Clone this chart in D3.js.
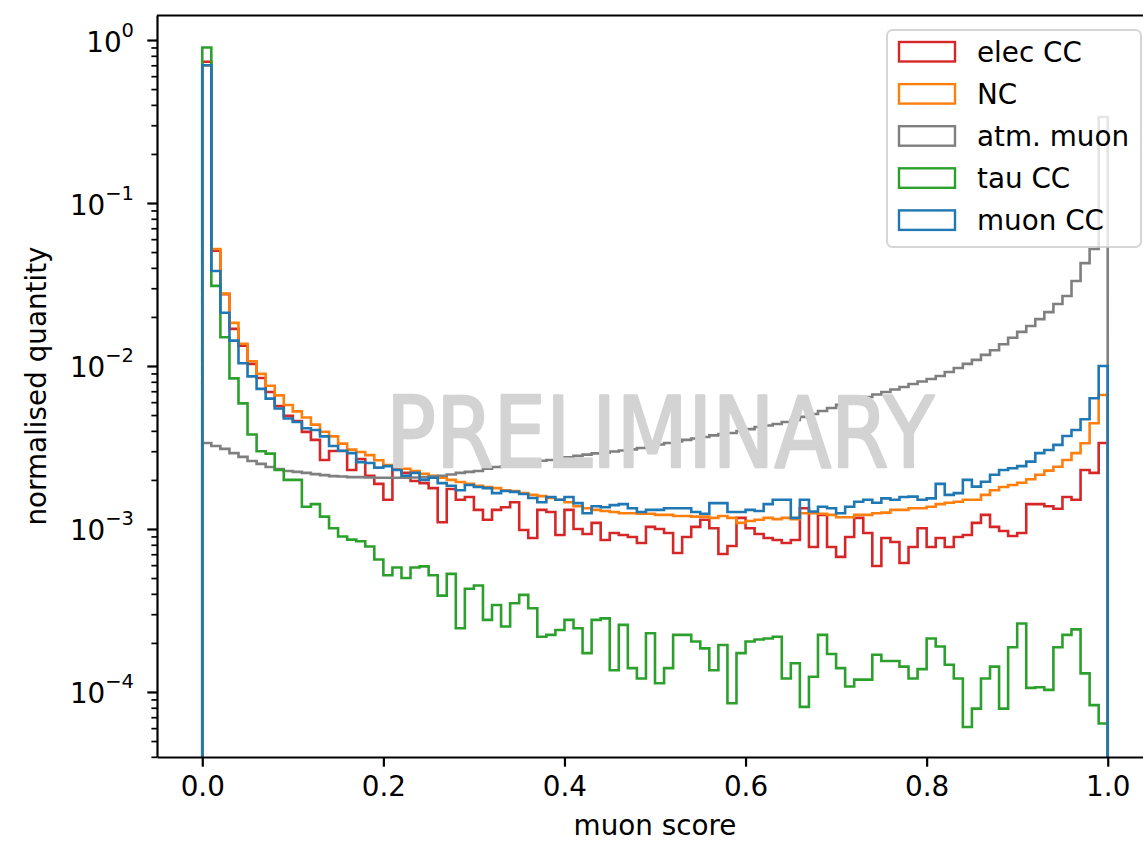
<!DOCTYPE html>
<html>
<head>
<meta charset="utf-8">
<script src="https://cdn.jsdelivr.net/npm/d3@7"></script>
<style>
  body { margin: 0; background: #fff; }
  svg { display: block; font-family: "DejaVu Sans", sans-serif; }
</style>
</head>
<body>
<div id="chart"></div>
<script>
// histogram bin edges: 100 bins of muon score between 0 and 1
var binEdges = d3.range(101).map(function(i) { return i / 100; });

var seriesNames = ["elec CC", "NC", "atm. muon", "tau CC", "muon CC"];
var seriesColors = ["#d62728", "#ff7f0e", "#7f7f7f", "#2ca02c", "#1f77b4"];

var elecCC = [
  0.736, 0.0510, 0.0276, 0.0169, 0.0133, 0.0103, 0.00844, 0.00693, 0.00568, 0.00494,
  0.00460, 0.00394, 0.00352, 0.00265, 0.00301, 0.00301, 0.00230, 0.00269, 0.00212, 0.00189,
  0.00151, 0.00237, 0.00221, 0.00197, 0.00191, 0.00178, 0.00110, 0.00176, 0.00151, 0.00157,
  0.00131, 0.00114, 0.00131, 0.00136, 0.00146, 0.000986, 0.000881, 0.00131, 0.00127, 0.000919,
  0.00131, 0.00100, 0.000932, 0.00109, 0.000856, 0.000945, 0.000919, 0.000893, 0.000821, 0.00103,
  0.00100, 0.000945, 0.000712, 0.000893, 0.00103, 0.00114, 0.00101, 0.000702, 0.000787, 0.00117,
  0.00101, 0.000932, 0.000881, 0.000856, 0.000821, 0.000856, 0.00134, 0.000776, 0.00122, 0.000776,
  0.000674, 0.000893, 0.00117, 0.000945, 0.000593, 0.000881, 0.000832, 0.000619, 0.000776, 0.00101,
  0.000776, 0.000881, 0.000776, 0.000893, 0.000919, 0.00109, 0.00122, 0.00103, 0.000972, 0.000906,
  0.000945, 0.00142, 0.00142, 0.00138, 0.00133, 0.00157, 0.00151, 0.00230, 0.00221, 0.00337
];

var nc = [
  0.698, 0.0522, 0.0278, 0.0184, 0.0137, 0.0107, 0.00895, 0.00757, 0.00660, 0.00576,
  0.00527, 0.00483, 0.00437, 0.00395, 0.00370, 0.00334, 0.00307, 0.00297, 0.00284, 0.00264,
  0.00247, 0.00240, 0.00234, 0.00227, 0.00218, 0.00212, 0.00206, 0.00200, 0.00194, 0.00189,
  0.00184, 0.00181, 0.00178, 0.00173, 0.00171, 0.00166, 0.00162, 0.00159, 0.00155, 0.00151,
  0.00146, 0.00138, 0.00134, 0.00131, 0.00129, 0.00127, 0.00125, 0.00125, 0.00124, 0.00124,
  0.00122, 0.00122, 0.00120, 0.00120, 0.00119, 0.00119, 0.00117, 0.00120, 0.00117, 0.00109,
  0.00112, 0.00114, 0.00117, 0.00115, 0.00117, 0.00115, 0.00125, 0.00125, 0.00124, 0.00122,
  0.00118, 0.00118, 0.00122, 0.00122, 0.00125, 0.00126, 0.00131, 0.00131, 0.00134, 0.00134,
  0.00137, 0.00142, 0.00145, 0.00147, 0.00151, 0.00151, 0.00162, 0.00173, 0.00181, 0.00186,
  0.00192, 0.00202, 0.00215, 0.00228, 0.00241, 0.00265, 0.00292, 0.00336, 0.00445, 0.00664
];

var atmMuon = [
  0.00337, 0.00323, 0.00310, 0.00292, 0.00277, 0.00261, 0.00251, 0.00240, 0.00233, 0.00227,
  0.00224, 0.00221, 0.00217, 0.00214, 0.00211, 0.00210, 0.00208, 0.00208, 0.00207, 0.00206,
  0.00206, 0.00206, 0.00206, 0.00207, 0.00208, 0.00210, 0.00212, 0.00216, 0.00221, 0.00224,
  0.00227, 0.00234, 0.00240, 0.00242, 0.00247, 0.00252, 0.00258, 0.00262, 0.00265, 0.00271,
  0.00275, 0.00281, 0.00286, 0.00291, 0.00294, 0.00299, 0.00303, 0.00308, 0.00314, 0.00323,
  0.00330, 0.00337, 0.00344, 0.00352, 0.00359, 0.00367, 0.00375, 0.00383, 0.00388, 0.00399,
  0.00410, 0.00422, 0.00431, 0.00441, 0.00453, 0.00467, 0.00487, 0.00508, 0.00530, 0.00552,
  0.00577, 0.00601, 0.00623, 0.00645, 0.00668, 0.00692, 0.00718, 0.00743, 0.00776, 0.00803,
  0.00832, 0.00869, 0.00919, 0.00973, 0.0103, 0.0109, 0.0117, 0.0125, 0.0136, 0.0149,
  0.0162, 0.0176, 0.0194, 0.0214, 0.0240, 0.0269, 0.0332, 0.0428, 0.0522, 0.337
];

var tauCC = [
  0.90, 0.031, 0.015, 0.0084, 0.0059, 0.0038, 0.0030, 0.0029, 0.0023, 0.0020,
  0.0020, 0.00137, 0.00142, 0.00119, 0.00101, 0.00090, 0.00086, 0.00084, 0.00078, 0.00065,
  0.00052, 0.00058, 0.00050, 0.00058, 0.00059, 0.00052, 0.00039, 0.00053, 0.000246, 0.00043,
  0.00045, 0.000277, 0.000342, 0.000252, 0.00035, 0.000394, 0.000326, 0.000218, 0.000224, 0.00024,
  0.000277, 0.000246, 0.000173, 0.000277, 0.000283, 0.000136, 0.000258, 0.00014, 0.000121, 0.000229,
  0.000113, 0.00014, 0.000224, 0.000224, 0.000204, 0.000185, 0.000136, 0.000194, 0.0000853, 0.000173,
  0.000204, 0.00021, 0.000213, 0.000218, 0.000121, 0.00015, 0.000081, 0.000124, 0.000224, 0.000171,
  0.00014, 0.000108, 0.000119, 0.000119, 0.000169, 0.000155, 0.000155, 0.000143, 0.000121, 0.000138,
  0.000213, 0.00019, 0.000147, 0.000121, 0.000061, 0.000079, 0.000121, 0.000143, 0.000079, 0.000188,
  0.000263, 0.000106, 0.000107, 0.000103, 0.000188, 0.000224, 0.000242, 0.00013, 0.000083, 0.000064
];

var muonCC = [
  0.700, 0.0383, 0.0212, 0.0143, 0.0104, 0.00863, 0.00724, 0.00631, 0.00548, 0.00476,
  0.00453, 0.00415, 0.00405, 0.00370, 0.00323, 0.00302, 0.00292, 0.00257, 0.00254, 0.00238,
  0.00243, 0.00230, 0.00212, 0.00221, 0.00200, 0.00206, 0.00191, 0.00184, 0.00173, 0.00186,
  0.00181, 0.00178, 0.00166, 0.00171, 0.00169, 0.00164, 0.00155, 0.00146, 0.00157, 0.00151,
  0.00157, 0.00144, 0.00125, 0.00138, 0.00136, 0.00140, 0.00142, 0.00134, 0.00127, 0.00131,
  0.00131, 0.00134, 0.00134, 0.00134, 0.00127, 0.00124, 0.00144, 0.00144, 0.00127, 0.00127,
  0.00131, 0.00129, 0.00142, 0.00151, 0.00151, 0.00117, 0.00151, 0.00128, 0.00137, 0.00134,
  0.00125, 0.00137, 0.00147, 0.00151, 0.00145, 0.00154, 0.00151, 0.00157, 0.00158, 0.00151,
  0.00154, 0.00189, 0.00162, 0.00166, 0.00200, 0.00182, 0.00195, 0.00215, 0.00230, 0.00236,
  0.00243, 0.00259, 0.00292, 0.00305, 0.00328, 0.00372, 0.00405, 0.00471, 0.00634, 0.0100
];

var xTicks = [0, 0.2, 0.4, 0.6, 0.8, 1.0];
var yTickExps = [0, -1, -2, -3, -4];

// plotting order = legend order (muon CC ends up on top)
var series = [elecCC, nc, atmMuon, tauCC, muonCC];

// axes box (right spine falls just outside the picture)
var margin = {top: 15, left: 157},
    width = 996,
    height = 742;

var fontSize = 27.8;

var svg = d3.select("#chart").append("svg")
    .attr("width", 1143)
    .attr("height", 842);

svg.append("defs").append("clipPath")
    .attr("id", "plotclip")
  .append("rect")
    .attr("width", width)
    .attr("height", height);

var plot = svg.append("g")
    .attr("transform", "translate(" + margin.left + "," + margin.top + ")");

var x = d3.scaleLinear().domain([-0.05, 1.05]).range([0, width]);
var y = d3.scaleLog().domain([3.99e-5, 1.424]).range([height, 0]);

// watermark
svg.append("text")
    .attr("x", 660)
    .attr("y", 467)
    .attr("text-anchor", "middle")
    .attr("textLength", 548)
    .attr("lengthAdjust", "spacingAndGlyphs")
    .style("font-size", "98px")
    .style("fill", "#d3d3d3")
    .style("stroke", "#d3d3d3")
    .style("stroke-width", 2.5)
    .style("stroke-linejoin", "round")
    .style("stroke-linecap", "round")
    .text("PRELIMINARY");

// step histograms
var floorValue = y.domain()[0] / 10;
var stepLine = d3.line()
    .x(function(d) { return x(d[0]); })
    .y(function(d) { return y(d[1]); });

var histG = plot.append("g").attr("clip-path", "url(#plotclip)");

series.forEach(function(vals, k) {
  var pts = [[binEdges[0], floorValue]];
  vals.forEach(function(v, i) {
    pts.push([binEdges[i], v]);
    pts.push([binEdges[i + 1], v]);
  });
  pts.push([binEdges[binEdges.length - 1], floorValue]);
  histG.append("path")
      .attr("d", stepLine(pts))
      .attr("fill", "none")
      .attr("stroke", seriesColors[k])
      .attr("stroke-width", 2.6)
      .attr("stroke-linejoin", "miter");
});

// x axis
var xAxis = plot.append("g")
    .attr("transform", "translate(0," + height + ")")
    .call(d3.axisBottom(x)
      .tickValues(xTicks)
      .tickFormat(d3.format(".1f"))
      .tickSize(9.7)
      .tickPadding(9.7)
      .tickSizeOuter(0));
xAxis.select(".domain").attr("stroke-width", 2.2);
xAxis.selectAll(".tick line").attr("stroke-width", 2.2);
xAxis.selectAll(".tick text")
    .attr("font-family", "DejaVu Sans")
    .style("font-size", fontSize + "px")
    .attr("fill", "#000");

// y axis: minor and major ticks
var allYTicks = y.ticks();
var majorTicks = allYTicks.filter(function(d) { return Math.abs(Math.log10(d) - Math.round(Math.log10(d))) < 1e-9; });
var minorTicks = allYTicks.filter(function(d) { return majorTicks.indexOf(d) < 0; });

var yMinor = plot.append("g")
    .call(d3.axisLeft(y).tickValues(minorTicks).tickSize(5.6).tickFormat("").tickSizeOuter(0));
yMinor.select(".domain").remove();
yMinor.selectAll(".tick line").attr("stroke-width", 1.7);

var yAxis = plot.append("g")
    .call(d3.axisLeft(y).tickValues(majorTicks).tickSize(9.7).tickFormat("").tickSizeOuter(0));
yAxis.select(".domain").attr("stroke-width", 2.2);
yAxis.selectAll(".tick line").attr("stroke-width", 2.2);

yTickExps.forEach(function(e) {
  var t = plot.append("text")
      .attr("x", -23)
      .attr("y", y(Math.pow(10, e)) + 11.5)
      .attr("text-anchor", "end")
      .style("font-size", fontSize + "px")
      .attr("fill", "#000");
  t.append("tspan").text("10");
  t.append("tspan")
      .attr("dy", -15)
      .style("font-size", "19.5px")
      .text(e === 0 ? "0" : "\u2212" + (-e));
});

// top spine
plot.append("line")
    .attr("x1", 0).attr("x2", width)
    .attr("y1", 0.5).attr("y2", 0.5)
    .attr("stroke", "#000")
    .attr("stroke-width", 2.2);

// axis labels
svg.append("text")
    .attr("x", margin.left + x(0.5))
    .attr("y", 835)
    .attr("text-anchor", "middle")
    .style("font-size", fontSize + "px")
    .text("muon score");

svg.append("text")
    .attr("transform", "translate(46," + (margin.top + height / 2) + ") rotate(-90)")
    .attr("text-anchor", "middle")
    .style("font-size", fontSize + "px")
    .text("normalised quantity");

// legend
var legend = svg.append("g");
legend.append("rect")
    .attr("x", 887)
    .attr("y", 30)
    .attr("width", 254)
    .attr("height", 217)
    .attr("rx", 5.5)
    .attr("fill", "#fff")
    .attr("fill-opacity", 0.8)
    .attr("stroke", "#cccccc")
    .attr("stroke-opacity", 0.8)
    .attr("stroke-width", 2);

seriesNames.forEach(function(name, i) {
  var cy = 51.7 + 42.1 * i;
  legend.append("rect")
      .attr("x", 899)
      .attr("y", cy - 9.7)
      .attr("width", 56)
      .attr("height", 19.5)
      .attr("fill", "none")
      .attr("stroke", seriesColors[i])
      .attr("stroke-width", 2.4);
  legend.append("text")
      .attr("x", 977)
      .attr("y", cy + 10)
      .style("font-size", fontSize + "px")
      .text(name);
});
</script>
</body>
</html>
